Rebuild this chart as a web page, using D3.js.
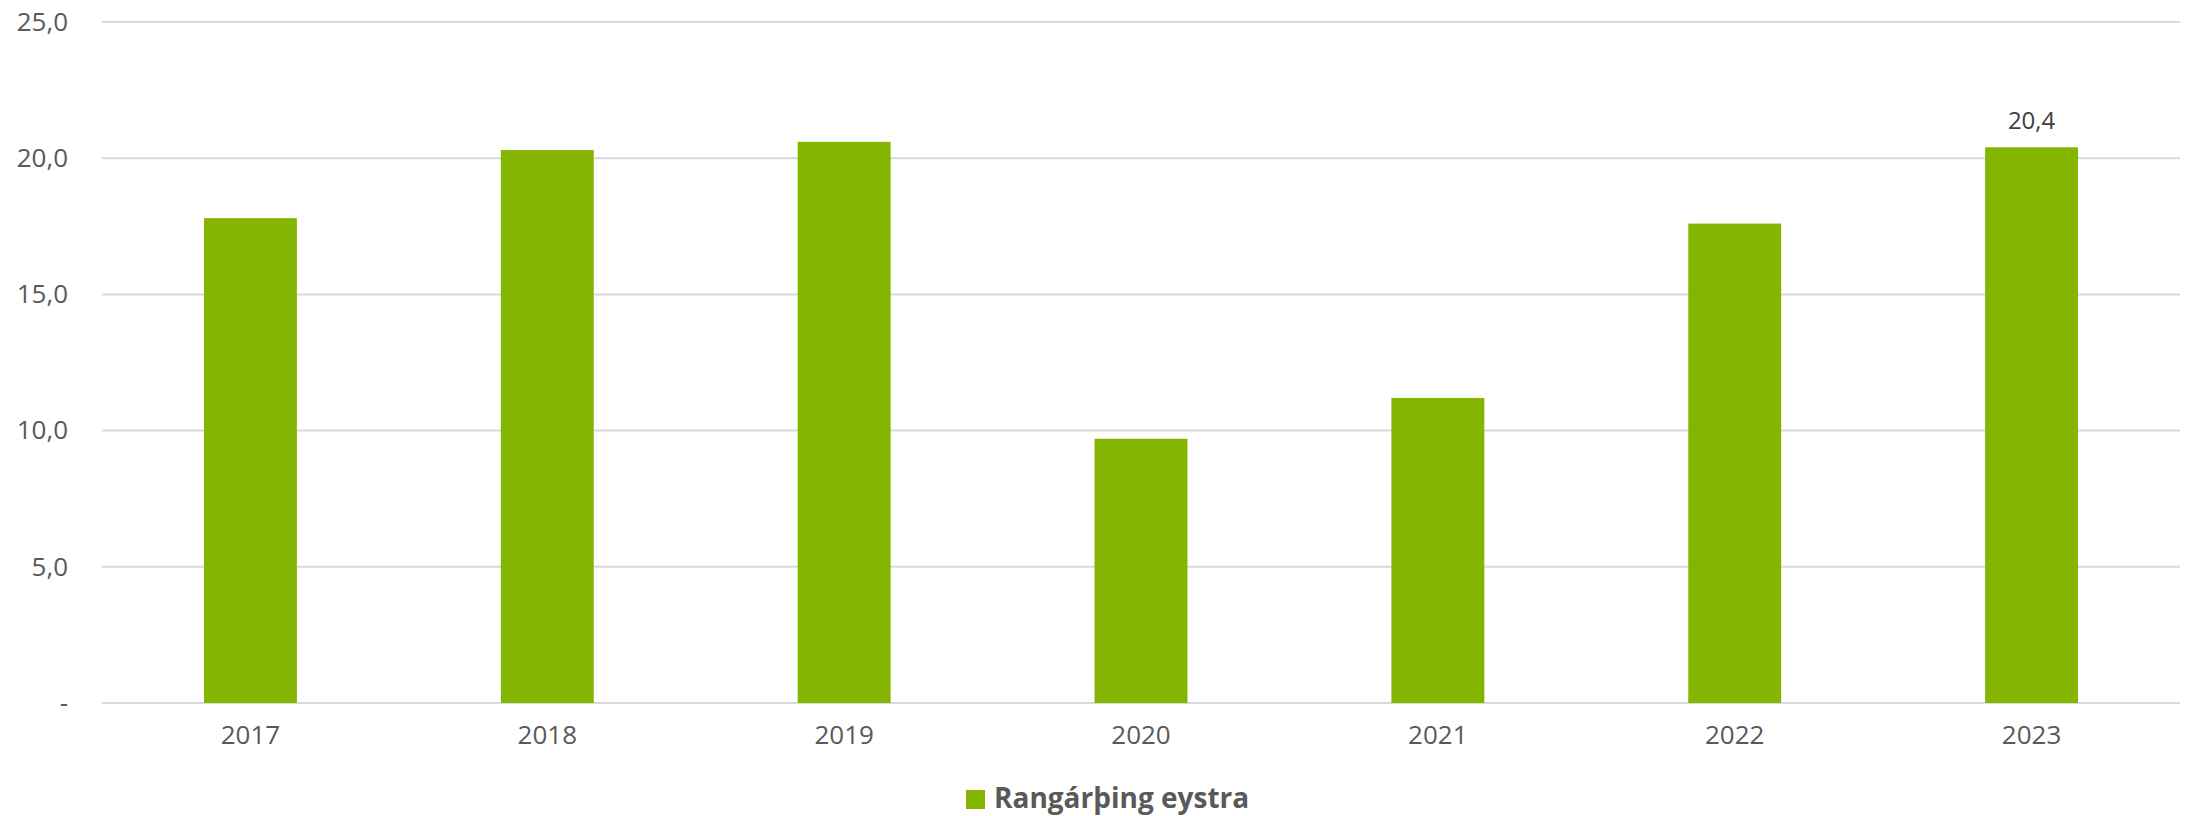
<!DOCTYPE html>
<html lang="is">
<head>
  <meta charset="UTF-8" />
  <title>Rangárþing eystra</title>
  <script src="https://d3js.org/d3.v7.min.js"></script>
  <style>
    body { margin: 0; background: #fff; font-family: 'Open Sans', 'Noto Sans', sans-serif; }
    svg text { font-family: 'Open Sans', 'Noto Sans', sans-serif; }
    .tick text { fill: #595959; }
  </style>
</head>
<body>
  <div id="chart"></div>
  <script>
    // Data
    const years = ["2017", "2018", "2019", "2020", "2021", "2022", "2023"];
    const values = [17.8, 20.3, 20.6, 9.7, 11.2, 17.6, 20.4];
    const yTicks = [0, 5, 10, 15, 20, 25];
    const seriesName = "Rangárþing eystra";
    const labelled = ["2023"];

    const width = 2186, height = 816;
    const margin = { top: 22, right: 6, bottom: 113, left: 102 };
    const barColor = "#84b500";

    const svg = d3.select("#chart").append("svg")
      .attr("width", width)
      .attr("height", height);

    const x = d3.scaleBand()
      .domain(years)
      .range([margin.left, width - margin.right])
      .paddingInner(0.687)
      .paddingOuter(0.3435);

    const y = d3.scaleLinear()
      .domain([0, 25])
      .range([height - margin.bottom, margin.top]);

    const fmt = v => v === 0 ? "-" : d3.format(".1f")(v).replace(".", ",");

    // gridlines
    svg.append("g")
      .selectAll("line")
      .data(yTicks)
      .join("line")
      .attr("x1", margin.left)
      .attr("x2", width - margin.right)
      .attr("y1", d => y(d))
      .attr("y2", d => y(d))
      .attr("stroke", "#d9d9d9")
      .attr("stroke-width", 2);

    // y axis labels
    const yAxis = svg.append("g")
      .attr("transform", `translate(${margin.left - 34},0)`)
      .call(d3.axisLeft(y).tickValues(yTicks).tickFormat(fmt).tickSize(0).tickPadding(0));
    yAxis.attr("font-family", null);
    yAxis.select(".domain").remove();
    yAxis.selectAll("text").style("font-size", "26px");

    // bars
    svg.append("g")
      .selectAll("rect")
      .data(values)
      .join("rect")
      .attr("x", (d, i) => x(years[i]))
      .attr("y", d => y(d))
      .attr("width", x.bandwidth())
      .attr("height", d => y(0) - y(d))
      .attr("fill", barColor);

    // x axis labels
    const xAxis = svg.append("g")
      .attr("transform", `translate(0,${y(0)})`)
      .call(d3.axisBottom(x).tickSize(0).tickPadding(23));
    xAxis.attr("font-family", null);
    xAxis.select(".domain").remove();
    xAxis.selectAll("text").style("font-size", "26px");

    // data label
    svg.append("g")
      .selectAll("text")
      .data(years.map((yr, i) => ({ yr, v: values[i] })).filter(d => labelled.includes(d.yr)))
      .join("text")
      .attr("x", d => x(d.yr) + x.bandwidth() / 2)
      .attr("y", d => y(d.v) - 18)
      .attr("text-anchor", "middle")
      .attr("fill", "#404040")
      .style("font-size", "24px")
      .text(d => fmt(d.v));

    // legend
    const legend = svg.append("g").attr("transform", "translate(966,790)");
    legend.append("rect")
      .attr("width", 19)
      .attr("height", 19)
      .attr("fill", barColor);
    legend.append("text")
      .attr("x", 28)
      .attr("y", 18)
      .attr("fill", "#595959")
      .style("font-size", "28px")
      .style("font-weight", "bold")
      .text(seriesName);
  </script>
</body>
</html>
